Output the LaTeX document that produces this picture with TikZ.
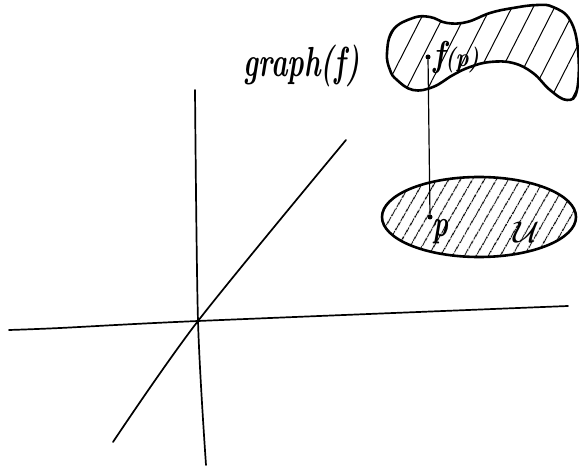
\documentclass[tikz,border=0pt]{standalone}
\usepackage{graphicx}
\usetikzlibrary{patterns.meta}
\begin{document}
\begin{tikzpicture}[x=1pt,y=-1pt, line cap=round, line join=round,
  axis/.style={line width=1.7pt},
  blob/.style={line width=2.6pt},
  hatchA/.style={pattern={Lines[angle=63,distance=19pt,line width=1pt]}},
  hatchB/.style={pattern={Lines[angle=60,distance=10.5pt,line width=1pt]}},
  dotnode/.style={circle,fill,inner sep=0pt,minimum size=5pt},
  lbl/.style={inner sep=0pt,font=\bfseries\itshape}]
\useasboundingbox (0,0) rectangle (579,468);
% axes
\coordinate (hl) at (9,330);
\coordinate (o) at (198,321);
\coordinate (hr) at (568,306);
\coordinate (vt) at (195,90);
\coordinate (vb) at (206,465);
\coordinate (dl) at (113,442);
\coordinate (du) at (346,140);
\draw[axis] plot[smooth] coordinates {(hl) (60,328) (o) (hr)};
\draw[axis] plot[smooth] coordinates {(vt) (o) (vb)};
\draw[axis] plot[smooth] coordinates {(dl) (o) (du)};
% upper blob
\draw[blob,hatchA] plot[smooth cycle, tension=0.7] coordinates {
 (387,53) (393,30) (413,18) (430,17) (447,23) (467,22) (490,13) (513,8)
 (537,5) (553,7) (570,20) (578,50) (577,90) (567,100) (550,90) (533,73)
 (513,63) (490,62) (470,67) (453,75) (433,87) (413,90) (397,80) (390,70)};
% lower ellipse
\draw[blob,hatchB] (479,217) ellipse [x radius=97, y radius=40];
% points
\node[dotnode] (fp) at (428,57) {};
\node[dotnode] (p) at (430,217) {};
\draw[line width=1.2pt] (fp) -- (p);
% labels
\node[lbl] (graph) at (302,66) {\scalebox{2.8}[4.2]{graph(f)}};
\node[lbl] (fplbl) at (456,58) {\scalebox{3}[3.6]{f}\scalebox{2.2}[2.6]{(p)}};
\node[lbl] (plbl) at (440,232) {\scalebox{2.7}[3.8]{p}};
\node[lbl] (ulbl) at (527,232) {\scalebox{3.6}[3]{$\mathcal{U}$}};
\end{tikzpicture}
\end{document}
